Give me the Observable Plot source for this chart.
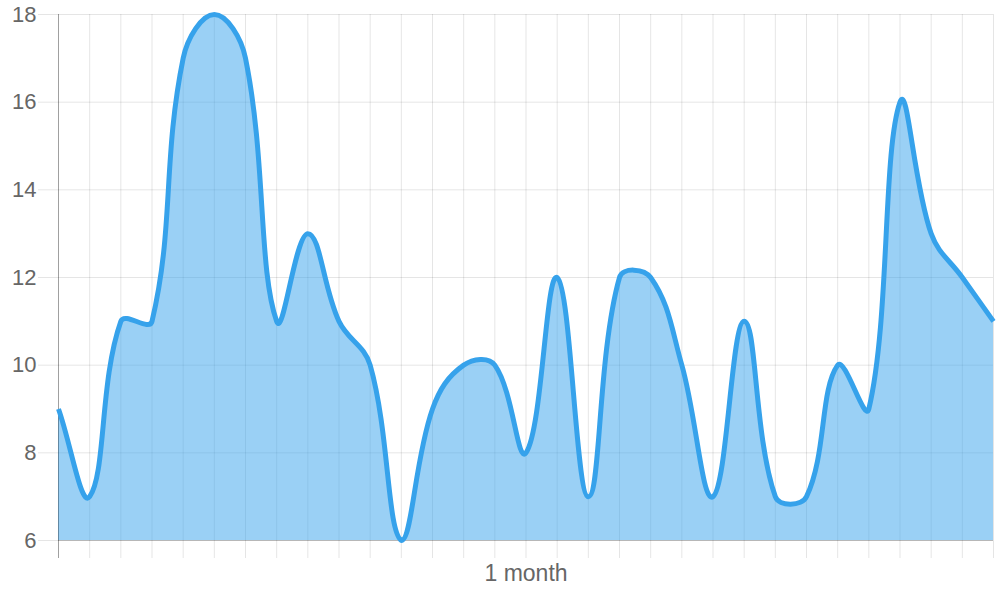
<!DOCTYPE html>
<html>
<head>
<meta charset="utf-8">
<script src="https://cdn.jsdelivr.net/npm/d3@7"></script>
<script src="https://cdn.jsdelivr.net/npm/@observablehq/plot@0.6"></script>
<style>
  html, body { margin: 0; padding: 0; background: #fff; }
  #chart svg { display: block; }
</style>
</head>
<body>
<div id="chart"></div>
<script>
// One value per day of the month
const days   = d3.range(0, 31);
const values = [9, 7, 11, 11, 17, 18, 17, 11, 13, 11, 10, 6, 9, 10, 10, 8,
                12, 7, 12, 12, 10, 7, 11, 7, 7, 10, 9, 16, 13, 12, 11];
const xTicks = d3.range(0, 31);
const yTicks = [6, 8, 10, 12, 14, 16, 18];
const xLabel = "1 month";

const data = days.map((d, i) => ({x: d, y: values[i]}));

const W = 1000, H = 600, ML = 58, MR = 7, MT = 14, MB = 60;
const blue = "#36a2eb";
const tension = 0.4;

// Bezier spline with capped control points (same idea as Chart.js' default line smoothing)
class SplineCurve {
  constructor(context) { this._context = context; }
  areaStart() { this._line = 0; }
  areaEnd() { this._line = NaN; }
  lineStart() { this._pts = []; }
  point(x, y) { this._pts.push({x: +x, y: +y}); }
  lineEnd() {
    const p = this._pts, ctx = this._context, n = p.length;
    if (n) {
      if (this._line) ctx.lineTo(p[0].x, p[0].y); else ctx.moveTo(p[0].x, p[0].y);
      const left = ML, right = W - MR, top = MT, bottom = H - MB;
      const cap = (v, lo, hi) => Math.max(Math.min(v, hi), lo);
      const cps = p.map((cur, i) => {
        const prev = p[Math.max(i - 1, 0)], next = p[Math.min(i + 1, n - 1)];
        const d01 = Math.hypot(cur.x - prev.x, cur.y - prev.y);
        const d12 = Math.hypot(next.x - cur.x, next.y - cur.y);
        let s01 = d01 / (d01 + d12), s12 = d12 / (d01 + d12);
        if (isNaN(s01)) s01 = 0;
        if (isNaN(s12)) s12 = 0;
        const fa = tension * s01, fb = tension * s12;
        return {
          px: cap(cur.x - fa * (next.x - prev.x), left, right),
          py: cap(cur.y - fa * (next.y - prev.y), top, bottom),
          nx: cap(cur.x + fb * (next.x - prev.x), left, right),
          ny: cap(cur.y + fb * (next.y - prev.y), top, bottom)
        };
      });
      for (let i = 1; i < n; ++i) {
        ctx.bezierCurveTo(cps[i - 1].nx, cps[i - 1].ny, cps[i].px, cps[i].py, p[i].x, p[i].y);
      }
    }
    if (this._line || (this._line !== 0 && n === 1)) ctx.closePath();
    this._line = 1 - this._line;
  }
}
const spline = (context) => new SplineCurve(context);

const chart = Plot.plot({
  width: W,
  height: H,
  marginLeft: ML,
  marginRight: MR,
  marginTop: MT,
  marginBottom: MB,
  style: {fontFamily: "'Liberation Sans', Arial, sans-serif", background: "#fff", color: "#666"},
  x: {type: "linear", domain: [0, 30]},
  y: {type: "linear", domain: [6, 18]},
  marks: [
    Plot.gridX(xTicks, {stroke: "#000", strokeOpacity: 0.1, strokeWidth: 1}),
    Plot.gridY(yTicks, {stroke: "#000", strokeOpacity: 0.1, strokeWidth: 1}),
    Plot.axisX(xTicks, {tickSize: 18, tickFormat: () => "", stroke: "#000", strokeOpacity: 0.1, label: null}),
    Plot.axisX([0], {tickSize: 18, tickFormat: () => "", stroke: "#000", strokeOpacity: 0.3, label: null}),
    Plot.axisY(yTicks, {tickSize: 20, tickPadding: 2, stroke: "#000", strokeOpacity: 0.1, fill: "#666", fontSize: 22, label: null}),
    Plot.areaY(data, {x: "x", y1: () => 6, y2: "y", curve: spline, fill: blue, fillOpacity: 0.5}),
    Plot.ruleY([6], {stroke: "#000", strokeOpacity: 0.2}),
    Plot.ruleX([0], {stroke: "#000", strokeOpacity: 0.3}),
    Plot.lineY(data, {x: "x", y: "y", curve: spline, stroke: blue, strokeWidth: 5, strokeLinecap: "butt", strokeLinejoin: "round"}),
    Plot.text([xLabel], {frameAnchor: "bottom", dy: 40, fontSize: 23, fill: "#666"})
  ]
});
document.getElementById("chart").appendChild(chart);
</script>
</body>
</html>
